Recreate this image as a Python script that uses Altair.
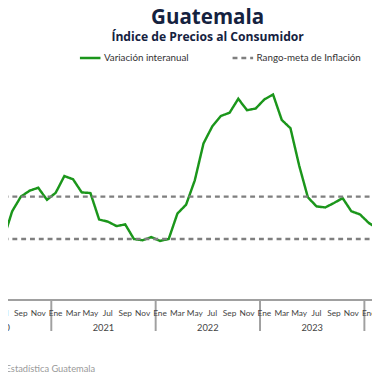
import altair as alt
import pandas as pd

# ---------------- data ----------------
meses = ["Ene", "Feb", "Mar", "Abr", "May", "Jun", "Jul", "Ago", "Sep", "Oct", "Nov", "Dic"]
anios = [2020, 2021, 2022, 2023, 2024]
# monthly index (0 = Ene 2020); series runs Jun 2020 .. Feb 2024
inicio_idx = 5
variacion = [
    2.31, 3.00, 4.31, 5.00, 5.28, 5.42, 4.85,                                # 2020 Jun-Dic
    5.18, 5.97, 5.82, 5.20, 5.17, 3.92, 3.82, 3.61, 3.69, 3.00, 2.94, 3.09,  # 2021
    2.91, 3.00, 4.20, 4.62, 5.77, 7.51, 8.31, 8.81, 8.96, 9.62, 9.08, 9.16,  # 2022
    9.59, 9.82, 8.62, 8.23, 6.47, 4.97, 4.54, 4.49, 4.70, 4.93, 4.31, 4.16,  # 2023
    3.76, 3.50,                                                              # 2024
]
meta_inferior = 3.0
meta_superior = 5.0
serie_var = "Variación interanual"
serie_meta = "Rango-meta de Inflación"
titulo = "Guatemala"
subtitulo = "Índice de Precios al Consumidor"
fuente = "Fuente: Instituto Nacional de Estadística Guatemala"

# ---------------- tables ----------------
rows = []
for i, v in enumerate(variacion):
    t = inicio_idx + i + 0.5
    rows.append({"t": t, "valor": v, "serie": serie_var, "grupo": "var"})
    rows.append({"t": t, "valor": meta_inferior, "serie": serie_meta, "grupo": "low"})
    rows.append({"t": t, "valor": meta_superior, "serie": serie_meta, "grupo": "high"})
df = pd.DataFrame(rows)

mes_rows = []
for idx in range(6, 49, 2):
    mes_rows.append({"t": idx + 0.5, "lab": meses[idx % 12]})
df_mes = pd.DataFrame(mes_rows)

df_anio = pd.DataFrame({"t": [(a - 2020) * 12 + 6 for a in anios], "lab": [str(a) for a in anios]})
df_sep = pd.DataFrame({"t": [(a - 2020) * 12 for a in anios[1:]]})

W, H = 372, 372
xs = alt.Scale(domain=[7.021, 48.876], nice=False, zero=False)
ys = alt.Scale(domain=[-3.4665, 13.716], nice=False, zero=False)

leg = alt.Legend(
    orient="none", legendX=72, legendY=35, direction="horizontal", title=None,
    symbolType="stroke", symbolSize=441, symbolStrokeWidth=2.5,
    labelFont="Lato", labelFontSize=10, labelColor="#333333",
    columnPadding=39, labelOffset=2, padding=0,
)

lines = alt.Chart(df).mark_line(clip=True).encode(
    x=alt.X("t:Q", scale=xs, axis=None),
    y=alt.Y("valor:Q", scale=ys, axis=None),
    color=alt.Color("serie:N", scale=alt.Scale(domain=[serie_var, serie_meta], range=["#1b961b", "#7f7f7f"]), legend=leg, sort=[serie_var, serie_meta]),
    strokeDash=alt.StrokeDash("serie:N", scale=alt.Scale(domain=[serie_var, serie_meta], range=[[1, 0], [5, 4]]), legend=leg, sort=[serie_var, serie_meta]),
    strokeWidth=alt.value(2.5),
    detail="grupo:N",
    order="t:Q",
)

axis_line = alt.Chart(df_sep).mark_rule(color="#a0a0a0", strokeWidth=2).encode(
    x=alt.value(0), x2=alt.value(W), y=alt.value(294.3)
)

seps = alt.Chart(df_sep).mark_rule(color="#a0a0a0", strokeWidth=2).encode(
    x=alt.X("t:Q", scale=xs), y=alt.value(294.3), y2=alt.value(326)
)

mes_txt = alt.Chart(df_mes).mark_text(font="Lato", fontSize=8.5, color="#444444", baseline="middle").encode(
    x=alt.X("t:Q", scale=xs), y=alt.value(307.5), text="lab:N"
)

anio_txt = alt.Chart(df_anio).mark_text(font="Lato", fontSize=9.5, color="#444444", baseline="middle").encode(
    x=alt.X("t:Q", scale=xs), y=alt.value(323), text="lab:N"
)

title_df = pd.DataFrame({"lab": [titulo]})
t1 = alt.Chart(title_df).mark_text(font="Open Sans", fontSize=21, fontWeight="bold", color="#15223f", baseline="alphabetic").encode(
    x=alt.value(204), y=alt.value(12.5), text="lab:N"
)
sub_df = pd.DataFrame({"lab": [subtitulo]})
t2 = alt.Chart(sub_df).mark_text(font="Open Sans", fontSize=12.4, fontWeight="bold", color="#15223f", baseline="alphabetic").encode(
    x=alt.value(204), y=alt.value(30), text="lab:N"
)
src_df = pd.DataFrame({"lab": [fuente]})
t3 = alt.Chart(src_df).mark_text(font="Lato", fontSize=9.5, color="#9a9a9a", align="right", baseline="middle").encode(
    x=alt.value(89), y=alt.value(365), text="lab:N"
)

chart = alt.layer(lines, axis_line, seps, mes_txt, anio_txt, t1, t2, t3).properties(
    width=W, height=H,
    autosize=alt.AutoSizeParams(type="none"),
    padding=0,
    background="white",
).configure_view(stroke=None)

chart.save("out.html", embed_options={"renderer": "svg", "actions": False})
